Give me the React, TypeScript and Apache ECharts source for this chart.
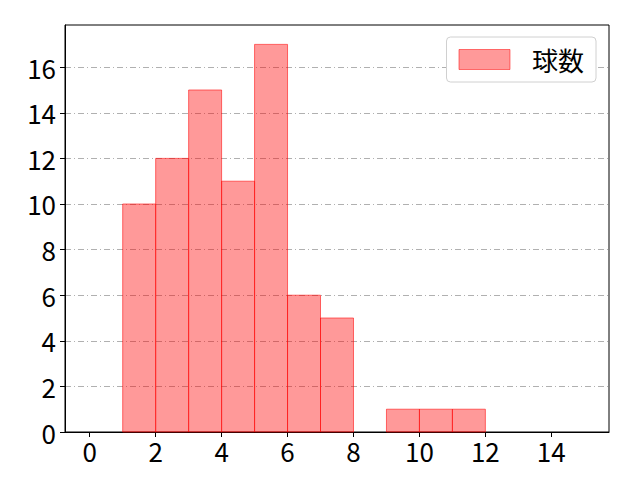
import { useEffect, useRef } from 'react';
import * as echarts from 'echarts';

const binStarts = [1, 2, 3, 4, 5, 6, 7, 8, 9, 10, 11];
const counts = [10, 12, 15, 11, 17, 6, 5, 0, 1, 1, 1];
const xTicks = [0, 2, 4, 6, 8, 10, 12, 14];
const yTicks = [0, 2, 4, 6, 8, 10, 12, 14, 16];
const seriesName = '球数';

const FONT = '"Noto Sans CJK JP", "DejaVu Sans", sans-serif';

const App = () => {
  const chartRef = useRef<HTMLDivElement>(null);

  useEffect(() => {
    if (!chartRef.current) return;
    const chart = echarts.init(chartRef.current, undefined, { renderer: 'svg' });

    const data = binStarts.map((s, i) => [s, s + 1, counts[i]]);

    const option = {
      animation: false,
      backgroundColor: '#fff',
      grid: {
        left: 65,
        right: 31,
        top: 25,
        bottom: 48,
        show: true,
        borderColor: '#000',
        borderWidth: 1,
        backgroundColor: 'transparent',
      },
      legend: {
        data: [{ name: seriesName, icon: 'rect' }],
        right: 44,
        top: 37,
        itemWidth: 51,
        itemHeight: 20,
        itemGap: 10,
        padding: [9, 12, 9, 12],
        backgroundColor: '#fff',
        borderColor: '#d0d0d0',
        borderWidth: 1,
        borderRadius: 4,
        textStyle: {
          fontFamily: FONT,
          fontSize: 26,
          lineHeight: 27,
          color: '#000',
          padding: [0, 0, 0, 17],
        },
        itemStyle: { color: 'rgba(255,0,0,0.4)', borderColor: 'rgba(255,0,0,0.5)', borderWidth: 1 },
      },
      xAxis: {
        type: 'value',
        min: -0.75,
        max: 15.75,
        axisLine: { onZero: false, lineStyle: { color: '#000' } },
        axisTick: { show: true, length: 5, customValues: xTicks, lineStyle: { color: '#000' } },
        axisLabel: {
          customValues: xTicks,
          fontFamily: FONT,
          fontSize: 26,
          color: '#000',
          margin: 5,
        },
        splitLine: { show: false },
      },
      yAxis: {
        type: 'value',
        min: 0,
        max: 17.85,
        interval: 2,
        axisLine: { show: true, onZero: false, lineStyle: { color: '#000' } },
        axisTick: { show: true, length: 5, customValues: yTicks, lineStyle: { color: '#000' } },
        axisLabel: {
          customValues: yTicks,
          fontFamily: FONT,
          fontSize: 26,
          color: '#000',
          margin: 9,
        },
        splitLine: {
          show: true,
          lineStyle: { color: '#b0b0b0', width: 1, type: [6, 3, 1, 3] },
        },
      },
      series: [
        {
          name: seriesName,
          type: 'custom',
          data,
          encode: { x: [0, 1], y: 2 },
          renderItem: (params: any, api: any) => {
            const x0 = api.value(0);
            const x1 = api.value(1);
            const h = api.value(2);
            if (!h) return null;
            const p0 = api.coord([x0, h]);
            const p1 = api.coord([x1, 0]);
            return {
              type: 'rect',
              shape: { x: p0[0], y: p0[1], width: p1[0] - p0[0], height: p1[1] - p0[1] },
              style: {
                fill: 'rgba(255,0,0,0.4)',
                stroke: 'rgba(255,0,0,0.55)',
                lineWidth: 1,
              },
            };
          },
          itemStyle: { color: 'rgba(255,0,0,0.4)' },
        },
      ],
    };

    chart.setOption(option);
    return () => chart.dispose();
  }, []);

  return <div ref={chartRef} style={{ width: 640, height: 480, margin: -8 }} />;
};

export default App;
